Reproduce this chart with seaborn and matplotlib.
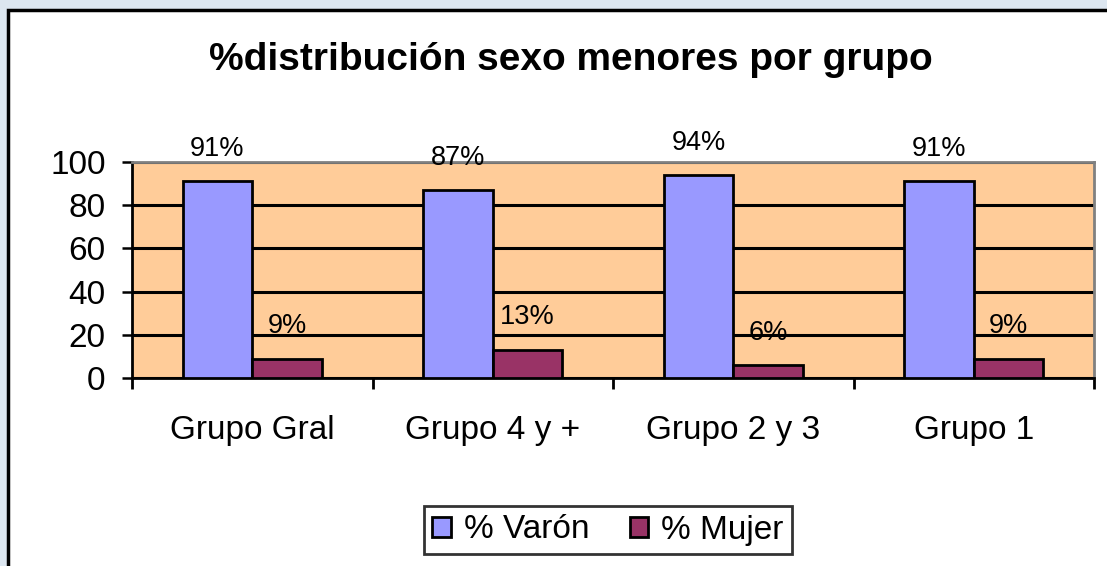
import matplotlib
matplotlib.use('Agg')
import matplotlib.pyplot as plt
import matplotlib.patches as mpatches
import seaborn as sns
import pandas as pd

# data
groups = ['Grupo Gral', 'Grupo 4 y +', 'Grupo 2 y 3', 'Grupo 1']
varon = [91, 87, 94, 91]
mujer = [9, 13, 6, 9]
series = ['% Varón', '% Mujer']
colors = ['#9999FF', '#993366']

df = pd.DataFrame({
    'grupo': groups * 2,
    'serie': [series[0]] * 4 + [series[1]] * 4,
    'valor': varon + mujer,
})

sns.set_style('white')
plt.rcParams['font.family'] = ['Liberation Sans', 'DejaVu Sans']
plt.rcParams['text.color'] = 'black'
plt.rcParams['xtick.color'] = 'black'
plt.rcParams['ytick.color'] = 'black'

W, H = 1107, 566
fig = plt.figure(figsize=(W / 100, H / 100), dpi=100)
fig.patch.set_facecolor('#DCE6F0')

# white chart area with black frame (runs off bottom/right edge)
frame = mpatches.Rectangle((8 / W, -0.2), 1.2, 1.2 - 10 / H, transform=fig.transFigure,
                           facecolor='white', edgecolor='black', linewidth=2.5, zorder=-5)
fig.patches.append(frame)

ax = fig.add_axes([132 / W, 1 - 378 / H, (1094 - 132) / W, (378 - 162) / H])
ax.set_facecolor('#FFCC99')

sns.barplot(data=df, x='grupo', y='valor', hue='serie', palette=colors,
            width=0.58, edgecolor='black', linewidth=2, saturation=1,
            ax=ax, zorder=3, legend=True)

ax.set_ylim(0, 100)
ax.set_xlim(-0.5, len(groups) - 0.5)
ax.set_yticks([0, 20, 40, 60, 80, 100])
ax.yaxis.grid(True, color='black', linewidth=2.2, zorder=1)
ax.set_axisbelow(True)
ax.set_xlabel('')
ax.set_ylabel('')

ax.tick_params(axis='y', labelsize=24, length=7, width=1.8, color='black', pad=12, left=True)
ax.tick_params(axis='x', which='major', length=0, labelsize=24, pad=27)
ax.set_xticks([i - 0.5 for i in range(len(groups) + 1)], minor=True)
ax.tick_params(axis='x', which='minor', length=8, width=2, color='black', bottom=True)

for side in ['left', 'bottom']:
    ax.spines[side].set_color('black')
    ax.spines[side].set_linewidth(2)
for side in ['top', 'right']:
    ax.spines[side].set_color('#808080')
    ax.spines[side].set_linewidth(2)
    ax.spines[side].set_visible(True)

# data labels
for cont in ax.containers:
    ax.bar_label(cont, labels=[f'{int(v)}%' for v in cont.datavalues],
                 padding=14, fontsize=19.5, zorder=5)

fig.text(571 / W, 1 - 60 / H, '%distribución sexo menores por grupo',
         ha='center', va='center', fontsize=28, fontweight='bold')

leg = ax.legend(loc='center', bbox_to_anchor=(608 / W, 1 - 530 / H),
                bbox_transform=fig.transFigure, ncol=2, fontsize=24,
                frameon=True, fancybox=False, edgecolor='black',
                handlelength=0.55, handleheight=0.55, handletextpad=0.4,
                columnspacing=1.2, borderpad=0.25, borderaxespad=0)
leg.get_frame().set_linewidth(2)
for h in leg.legend_handles:
    h.set_edgecolor('black')
    h.set_linewidth(2)

fig.savefig('out.png', dpi=100)
